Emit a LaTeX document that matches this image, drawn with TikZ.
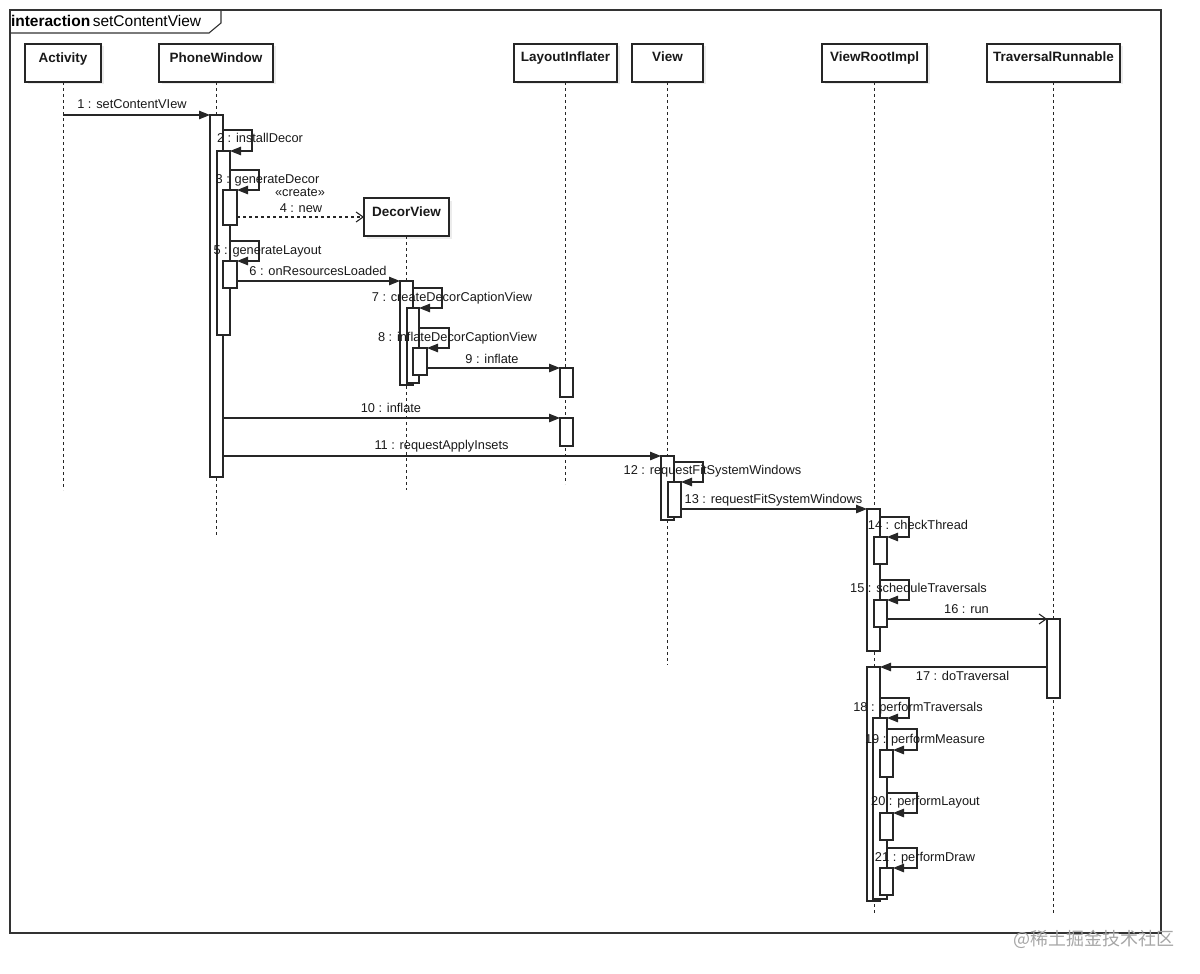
\documentclass[tikz,border=0pt]{standalone}
\usepackage{fontspec}
\setmainfont{Liberation Sans}
\newfontfamily\cjkfont{Noto Sans CJK SC}
\usetikzlibrary{arrows.meta,shadows,calc}
\newcommand\actbox[5]{\node[act, minimum width=#4, minimum height=#5] (#1) at (#2,#3) {};}
\newcommand\selfloop[4]{\draw[msg] ($(#2.north -| #1.east)+(0,-#4)$) -| ($(#2.north east)+(#3,0)$) -- (#2.north east);}
\begin{document}
\begin{tikzpicture}[x=1pt,y=-1pt,
  line width=1.1pt, draw=black!85,
  every node/.style={inner sep=0pt, outer sep=0pt},
  lbl/.style={font=\fontsize{12.8}{14}\selectfont, anchor=base, text=black!90},
  lifebox/.style={draw, fill=white, minimum width=#1, minimum height=38, anchor=north west,
    drop shadow={shadow xshift=2.5pt, shadow yshift=-2.5pt, opacity=0.15}},
  lifename/.style={font=\bfseries\fontsize{13.5}{15}\selectfont, anchor=base, text=black!90},
  lifeline/.style={dash pattern=on 3pt off 3pt, line width=0.9pt},
  act/.style={draw, fill=white, anchor=north west},
  msg/.style={-{Triangle[length=11pt,width=8.5pt]}},
  openmsg/.style={-{Straight Barb[length=7pt,width=10pt]}},
  createmsg/.style={dash pattern=on 3pt off 3pt, -{Straight Barb[length=7pt,width=10pt]}},
]
\useasboundingbox (0,0) rectangle (1200,974);

% frame
\draw[line width=1.2pt, black!80] (10,10) rectangle (1161,933);
\draw[line width=1.1pt, black!80] (10,33) -- (209,33) -- (221,23) -- (221,10);
\node[anchor=base west, font=\fontsize{15.5}{17}\selectfont] (hdr) at (11,27) {\textbf{interaction}\,setContentView};

% lifeline heads
\node[lifebox=76] (Activity) at (25,44) {};
\node[lifebox=114] (PhoneWindow) at (159,44) {};
\node[lifebox=103] (LayoutInflater) at (514,44) {};
\node[lifebox=71] (View) at (632,44) {};
\node[lifebox=105] (ViewRootImpl) at (822,44) {};
\node[lifebox=133] (TraversalRunnable) at (987,44) {};
\node[lifebox=85] (DecorView) at (364,198) {};

\node[lifename] (nActivity) at ([yshift=-19pt]Activity.north) {Activity};
\node[lifename] (nPhoneWindow) at ([yshift=-19pt]PhoneWindow.north) {PhoneWindow};
\node[lifename] (nLayoutInflater) at ([yshift=-18pt]LayoutInflater.north) {LayoutInflater};
\node[lifename] (nView) at ([yshift=-18pt]View.north) {View};
\node[lifename] (nViewRootImpl) at ([yshift=-18pt]ViewRootImpl.north) {ViewRootImpl};
\node[lifename] (nTraversalRunnable) at ([yshift=-18pt]TraversalRunnable.north) {TraversalRunnable};
\node[lifename] (nDecorView) at ([yshift=-18pt]DecorView.north) {DecorView};

% lifelines
\draw[lifeline] (Activity.south) -- ++(0,408);
\draw[lifeline] (PhoneWindow.south) -- ++(0,453);
\draw[lifeline] (LayoutInflater.south) -- ++(0,402);
\draw[lifeline] (View.south) -- ++(0,583);
\draw[lifeline] (ViewRootImpl.south) -- ++(0,833);
\draw[lifeline] (TraversalRunnable.south) -- ++(0,833);
\draw[lifeline] (DecorView.south) -- ++(0,254);

% activations
\actbox{A1}{210}{115}{13}{362}
\actbox{A2}{217}{151}{13}{184}
\actbox{A3}{223}{190}{14}{35}
\actbox{A5}{223}{261}{14}{27}
\actbox{D1}{400}{281}{13}{104}
\actbox{D2}{407}{308}{12}{75}
\actbox{D3}{413}{348}{14}{27}
\actbox{L1}{560}{368}{13}{29}
\actbox{L2}{560}{418}{13}{28}
\actbox{V1}{661}{456}{13}{64}
\actbox{V2}{668}{482}{13}{35}
\actbox{R1}{867}{509}{13}{142}
\actbox{R2}{874}{537}{13}{27}
\actbox{R3}{874}{600}{13}{27}
\actbox{T1}{1047}{619}{13}{79}
\actbox{R4}{867}{667}{13}{234}
\actbox{R5}{873}{718}{14}{181}
\actbox{R6}{880}{750}{13}{27}
\actbox{R7}{880}{813}{13}{27}
\actbox{R8}{880}{868}{13}{27}

% messages
\draw[msg] (Activity.south |- A1.north) -- (A1.north west);
\selfloop{A1}{A2}{22}{21}
\selfloop{A2}{A3}{22}{20}
\draw[createmsg] (A3.east |- DecorView.west) -- (DecorView.west);
\selfloop{A2}{A5}{22}{20}
\draw[msg] (A5.east |- D1.north) -- (D1.north west);
\selfloop{D1}{D2}{23}{20}
\selfloop{D2}{D3}{22}{20}
\draw[msg] (D3.east |- L1.north) -- (L1.north west);
\draw[msg] (A1.east |- L2.north) -- (L2.north west);
\draw[msg] (A1.east |- V1.north) -- (V1.north west);
\selfloop{V1}{V2}{22}{20}
\draw[msg] (V2.east |- R1.north) -- (R1.north west);
\selfloop{R1}{R2}{22}{20}
\selfloop{R1}{R3}{22}{20}
\draw[openmsg] (R3.east |- T1.north) -- (T1.north west);
\draw[msg] (T1.west |- R4.north) -- (R4.north east);
\selfloop{R4}{R5}{22}{20}
\selfloop{R5}{R6}{24}{21}
\selfloop{R5}{R7}{24}{20}
\selfloop{R5}{R8}{24}{20}

% labels
\node[lbl] (m1) at (132,108) {1 : setContentVIew};
\node[lbl] (m2) at (260,142) {2 : installDecor};
\node[lbl] (m3) at (267.5,183.5) {3 : generateDecor};
\node[lbl] (mc) at (300,196.5) {«create»};
\node[lbl] (m4) at (301,212) {4 : new};
\node[lbl] (m5) at (267.5,254) {5 : generateLayout};
\node[lbl] (m6) at (318,275) {6 : onResourcesLoaded};
\node[lbl] (m7) at (452,301) {7 : createDecorCaptionView};
\node[lbl] (m8) at (457.5,341) {8 : inflateDecorCaptionView};
\node[lbl] (m9) at (492,363) {9 : inflate};
\node[lbl] (m10) at (391,412.5) {10 : inflate};
\node[lbl] (m11) at (441.5,449.5) {11 : requestApplyInsets};
\node[lbl] (m12) at (712.5,474.5) {12 : requestFitSystemWindows};
\node[lbl] (m13) at (773.5,503) {13 : requestFitSystemWindows};
\node[lbl] (m14) at (918,529.5) {14 : checkThread};
\node[lbl] (m15) at (918.5,592.5) {15 : scheduleTraversals};
\node[lbl] (m16) at (966.5,613.5) {16 : run};
\node[lbl] (m17) at (962.5,680.5) {17 : doTraversal};
\node[lbl] (m18) at (918,711) {18 : performTraversals};
\node[lbl] (m19) at (925,743) {19 : performMeasure};
\node[lbl] (m20) at (925.5,805.5) {20 : performLayout};
\node[lbl] (m21) at (925,861) {21 : performDraw};

% watermark
\node[font=\cjkfont\fontsize{18}{20}\selectfont, text=black!35] (wm) at (1094,939) {@稀土掘金技术社区};
\end{tikzpicture}
\end{document}
